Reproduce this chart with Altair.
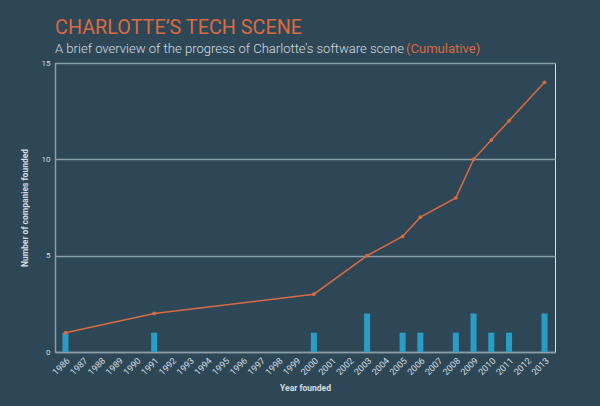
import altair as alt
import pandas as pd

years = [str(y) for y in range(1986, 2014)]
bar_years = ["1986", "1991", "2000", "2003", "2005", "2006", "2008", "2009", "2010", "2011", "2013"]
bar_counts = [1, 1, 1, 2, 1, 1, 1, 2, 1, 1, 2]
cumulative = [1, 2, 3, 5, 6, 7, 8, 10, 11, 12, 14]

df = pd.DataFrame({"year": bar_years, "count": bar_counts, "cum": cumulative})

BG = "#2d4756"
ORANGE = "#dc6a40"
BLUE = "#2a9dc6"
LIGHT = "#d5dde1"
GRID = "#8b9ea8"

x = alt.X("year:N", title="Year founded",
          scale=alt.Scale(domain=years, paddingInner=0.66, paddingOuter=0.42),
          axis=alt.Axis(labelAngle=-45, labelFontSize=9, labelColor=LIGHT, ticks=False,
                        domainColor=GRID, domainWidth=1.5, titleFontSize=8.5,
                        titleFontWeight="bold", titleColor=LIGHT, titlePadding=7,
                        labelPadding=4))
y_axis = alt.Axis(values=[0, 5, 10, 15], labelFontSize=8, labelColor=LIGHT, ticks=False,
                  domainColor=GRID, domainWidth=1.5, gridColor=GRID, gridWidth=1.5,
                  titleFontSize=8.5, titleFontWeight="bold", titleColor=LIGHT,
                  titlePadding=12, labelPadding=5)

base = alt.Chart(df)
bars = base.mark_bar(color=BLUE).encode(
    x=x,
    y=alt.Y("count:Q", title="Number of companies founded",
            scale=alt.Scale(domain=[0, 15], nice=False), axis=y_axis),
)
line = base.mark_line(color=ORANGE, strokeWidth=1.5).encode(
    x=alt.X("year:N", sort=years), y="cum:Q")
pts = base.mark_circle(color=ORANGE, size=14, opacity=1).encode(x=alt.X("year:N"), y="cum:Q")

title_df = pd.DataFrame({"t": ["CHARLOTTE’S TECH SCENE"]})
sub1_df = pd.DataFrame({"t": ["A brief overview of the progress of Charlotte’s software scene"]})
sub2_df = pd.DataFrame({"t": ["(Cumulative)"]})

title = alt.Chart(title_df).mark_text(align="left", baseline="alphabetic", fontSize=19.8,
                                      font="Roboto", color=ORANGE).encode(
    text="t:N", x=alt.value(0), y=alt.value(-29))
sub1 = alt.Chart(sub1_df).mark_text(align="left", baseline="alphabetic", fontSize=13.05,
                                    font="Roboto", fontWeight=300, color=LIGHT).encode(
    text="t:N", x=alt.value(0), y=alt.value(-10))
sub2 = alt.Chart(sub2_df).mark_text(align="left", baseline="alphabetic", fontSize=13.05,
                                    font="Roboto", color=ORANGE).encode(
    text="t:N", x=alt.value(351), y=alt.value(-10))

chart = alt.layer(bars, line, pts, title, sub1, sub2).properties(
    width=500, height=289, background=BG,
    padding={"left": 55, "top": 63, "right": 45, "bottom": 54},
    autosize=alt.AutoSizeParams(type="none"),
).configure_view(stroke=None).configure(font="Roboto")

chart.save("out.html", embed_options={"renderer": "svg", "actions": False})
